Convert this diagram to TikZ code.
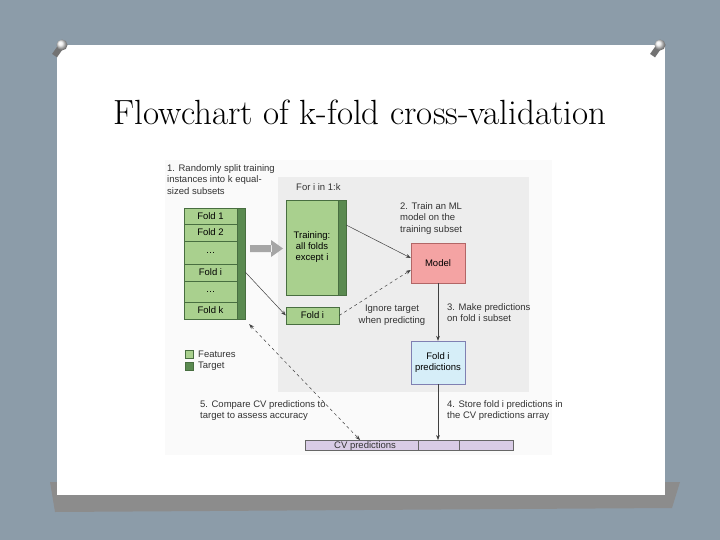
\documentclass[tikz,border=0pt]{standalone}
\usepackage{fontspec}
\setsansfont{Liberation Sans}
\usetikzlibrary{arrows.meta}
\definecolor{bgc}{HTML}{8C9CA9}
\definecolor{lg}{HTML}{A9D08E}
\definecolor{dg}{HTML}{5A8A50}
\definecolor{panel}{HTML}{EDEDED}
\definecolor{modelc}{HTML}{F4A3A3}
\definecolor{predc}{HTML}{D6EEF8}
\definecolor{cvc}{HTML}{D9CCE6}
\tikzset{
  fold/.style={draw=dg!80!black,fill=lg,line width=0.4pt,font=\sffamily\fontsize{9.5}{11}\selectfont},
  lbl/.style={font=\sffamily\fontsize{9.5}{11.5}\selectfont,align=left,text=black!80,inner sep=1pt},
  arr/.style={-{Stealth[length=5pt]},line width=0.5pt,black!75},
  darr/.style={arr,dashed}
}
\begin{document}
\begin{tikzpicture}[x=1pt,y=-1pt]
\useasboundingbox (0,0) rectangle (720,540);
\fill[bgc] (0,0) rectangle (720,540);
\fill[black!45] (50,482) -- (680,482) -- (672,508) -- (55,512) -- cycle;
\fill[white] (57,45) rectangle (665,495);
% pins
\foreach \px in {62,660}{
  \fill[black!55,rotate around={-35:(\px,45)}] (\px-3,45) rectangle (\px+3,58);
  \shade[ball color=white!85!gray] (\px,45) circle (5.5);
}
\node (title) at (360,112) {\fontsize{35}{40}\selectfont Flowchart of k-fold cross-validation};
% diagram background
\fill[black!2] (165,160) rectangle (552,455);
\fill[panel] (278,177) rectangle (529,392);
\node[lbl,anchor=west] (fori) at (295,187) {For i in 1:k};
% fold stack
\foreach \ya/\yb/\t/\n in {208/224/Fold 1/f1,224/241/Fold 2/f2,241/264/\dots/d1,264/281/Fold i/fi,281/302/\dots/d2,302/319/Fold k/fk}{
  \node[fold,minimum width=53pt,minimum height={\yb-\ya},inner sep=0] (\n) at (210.5,{(\ya+\yb)/2}) {\t};
}
\node[draw=dg!80!black,fill=dg,minimum width=8pt,minimum height=111pt,inner sep=0] (tgt) at (241,263.5) {};
\node[lbl,anchor=north west] (s1) at (166,163) {1. Randomly split training\\instances into k equal-\\sized subsets};
% training
\node[fold,minimum width=52pt,minimum height=95pt,align=center,inner sep=0] (train) at (312,247.5) {Training:\\all folds\\except i};
\node[draw=dg!80!black,fill=dg,minimum width=8pt,minimum height=95pt,inner sep=0] (ttgt) at (342,247.5) {};
\node[fold,minimum width=53pt,minimum height=17pt,inner sep=0] (foldi) at (312.5,315.5) {Fold i};
% gray arrow
\fill[black!35] (250,245) rectangle (272,252) (271,240) -- (283,248.5) -- (271,257) -- cycle;
% model
\node[draw=red!50!black!60,fill=modelc,minimum width=54pt,minimum height=40pt,font=\sffamily\fontsize{9.5}{11}\selectfont] (model) at (438,263) {Model};
\node[draw=blue!40!black!50,fill=predc,minimum width=54pt,minimum height=43pt,align=center,font=\sffamily\fontsize{9.5}{11.5}\selectfont] (pred) at (438,362.5) {Fold i\\predictions};
\node[lbl,anchor=north west] (s2) at (399,201) {2. Train an ML\\model on the\\training subset};
\node[lbl,anchor=north west] (s3) at (446,302) {3. Make predictions\\on fold i subset};
\node[lbl,anchor=north,align=center] (ign) at (392,304) {Ignore target\\when predicting};
\node[lbl,anchor=north west] (s4) at (446,399) {4. Store fold i predictions in\\the CV predictions array};
\node[lbl,anchor=north west] (s5) at (199,399) {5. Compare CV predictions to\\target to assess accuracy};
% legend
\node[fill=lg,draw=dg!80!black,minimum size=8pt,inner sep=0] (lf) at (189,354) {};
\node[lbl,anchor=west] (lft) at (197,354) {Features};
\node[fill=dg,draw=dg!80!black,minimum size=8pt,inner sep=0] (lt) at (189,366.5) {};
\node[lbl,anchor=west] (ltt) at (197,366.5) {Target};
% CV bar
\node[draw=black!60,fill=cvc,minimum width=208pt,minimum height=10pt,inner sep=0] (cv) at (409,445) {};
\node[lbl,anchor=base west] (cvt) at (333,448.5) {CV predictions};
\draw[black!60] (418,440) -- (418,450) (459,440) -- (459,450);
\coordinate (cvin) at (438,440);
\coordinate (cvl) at (360,440);
% arrows
\draw[arr] (ttgt.east |- 0,225) -- (model.west |- 0,258);
\draw[arr] (tgt.east |- 0,272) -- (foldi.west);
\draw[darr] (foldi.east) -- (model.west |- 0,270);
\draw[arr] (model.south) -- (pred.north);
\draw[arr] (pred.south) -- (cvin);
\draw[darr,{Stealth[length=5pt]}-{Stealth[length=5pt]}] (tgt.south east) ++(4,5) -- (cvl);
\end{tikzpicture}
\end{document}
